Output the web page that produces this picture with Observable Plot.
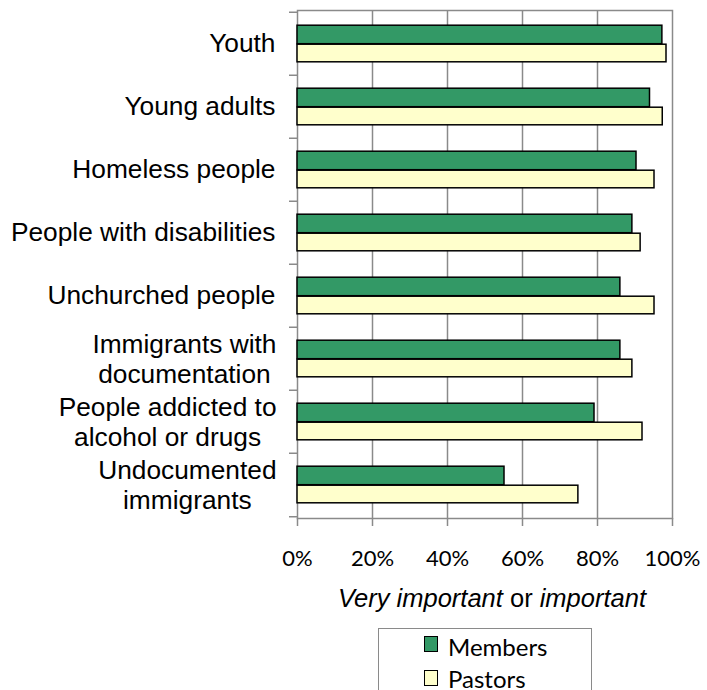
<!DOCTYPE html>
<html>
<head>
<meta charset="utf-8">
<script src="https://cdn.jsdelivr.net/npm/d3@7"></script>
<script src="https://cdn.jsdelivr.net/npm/@observablehq/plot@0.6"></script>
<style>
  body { margin: 0; width: 707px; height: 690px; overflow: hidden; position: relative; background: #fff; }
  #title { position: absolute; left: 297px; width: 390px; top: 583px; text-align: center;
           font: 25.5px "Liberation Sans", Arial, sans-serif; line-height: 30px; color: #000; white-space: nowrap; }
  #legend { position: absolute; left: 378px; top: 628px; width: 214px; height: 90px; box-sizing: border-box;
            border: 1.5px solid #8a8a8a; background: #fff; }
  .sw { position: absolute; left: 45px; width: 14px; height: 16px; box-sizing: border-box; border: 1.5px solid #000; }
  .lt { position: absolute; left: 69px; font: 24px Lato, sans-serif; line-height: 24px; color: #000; white-space: nowrap; }
</style>
</head>
<body>
<div id="chart"></div>
<div id="title"><i>Very important</i> or <i>important</i></div>
<div id="legend"></div>
<script>
const categories = ["Youth", "Young adults", "Homeless people", "People with disabilities",
  "Unchurched people", "Immigrants with documentation", "People addicted to alcohol or drugs",
  "Undocumented immigrants"];
const labelLines = [["Youth"], ["Young adults"], ["Homeless people"], ["People with disabilities"],
  ["Unchurched people"], ["Immigrants with", "documentation"], ["People addicted to", "alcohol or drugs"],
  ["Undocumented", "immigrants"]];
const members = [97.3, 94.0, 90.4, 89.3, 86.1, 86.1, 79.2, 55.2];
const pastors = [98.4, 97.4, 95.2, 91.5, 95.2, 89.3, 92.0, 74.9];
const xTicks = [0, 20, 40, 60, 80, 100];
const seriesNames = ["Members", "Pastors"];
const seriesColors = ["#339966", "#FFFFCC"];

const gray = "#8a8a8a";
const labelSize = 26.3;
const rows = categories.map((c, i) => ({category: c, members: members[i], pastors: pastors[i]}));

const ctx = document.createElement("canvas").getContext("2d");
ctx.font = labelSize + 'px "Liberation Sans"';

const singles = [];
const labelMarks = [];
categories.forEach((c, i) => {
  const lines = labelLines[i];
  if (lines.length === 1) singles.push({category: c, line: lines[0]});
  else {
    const blockW = Math.max(...lines.map(l => ctx.measureText(l).width));
    lines.forEach((l, j) => {
      labelMarks.push(Plot.text([{category: c, line: l}], {
        y: "category", text: "line", frameAnchor: "left", textAnchor: "middle",
        dx: -21 - blockW / 2, dy: 1 + (j - (lines.length - 1) / 2) * 30,
        fontSize: labelSize, fill: "#000"
      }));
    });
  }
});
labelMarks.push(Plot.text(singles, {y: "category", text: "line", frameAnchor: "left", textAnchor: "end",
  dx: -22, fontSize: labelSize, fill: "#000"}));

const chart = Plot.plot({
  width: 707,
  height: 582,
  marginLeft: 297,
  marginRight: 35,
  marginTop: 10,
  marginBottom: 64,
  style: {fontFamily: '"Liberation Sans", Arial, sans-serif', color: "#000", background: "#fff", overflow: "visible"},
  x: {domain: [0, 100]},
  y: {domain: categories, padding: 0},
  marks: [
    Plot.ruleX([20, 40, 60, 80], {stroke: gray, strokeWidth: 1.5}),
    Plot.frame({stroke: gray, strokeWidth: 1.5}),
    Plot.barX(rows, {y: "category", x: "members", fill: seriesColors[0], stroke: "#000", strokeWidth: 1.5,
      insetTop: 13.2, insetBottom: 31.3}),
    Plot.barX(rows, {y: "category", x: "pastors", fill: seriesColors[1], stroke: "#000", strokeWidth: 1.5,
      insetTop: 32.2, insetBottom: 13.2}),
    Plot.axisY({tickSize: 8, tickFormat: () => "", dy: -31.75, stroke: gray, strokeWidth: 1.5, label: null}),
    Plot.axisY([categories[categories.length - 1]], {tickSize: 8, tickFormat: () => "", dy: 31.75, stroke: gray, strokeWidth: 1.5, label: null}),
    Plot.axisX(xTicks, {tickSize: 8, tickPadding: 24, tickFormat: d => d + "%", stroke: gray, strokeWidth: 1.5,
      fill: "#000", fontSize: 22, fontFamily: "Lato", label: null}),
    ...labelMarks
  ]
});
document.getElementById("chart").appendChild(chart);

const legend = document.getElementById("legend");
const swTops = [7, 41], txtTops = [5.5, 37.5];
seriesNames.forEach((n, i) => {
  const sw = document.createElement("div");
  sw.className = "sw"; sw.style.top = swTops[i] + "px"; sw.style.background = seriesColors[i];
  legend.appendChild(sw);
  const t = document.createElement("div");
  t.className = "lt"; t.style.top = txtTops[i] + "px"; t.textContent = n;
  legend.appendChild(t);
});
</script>
</body>
</html>
